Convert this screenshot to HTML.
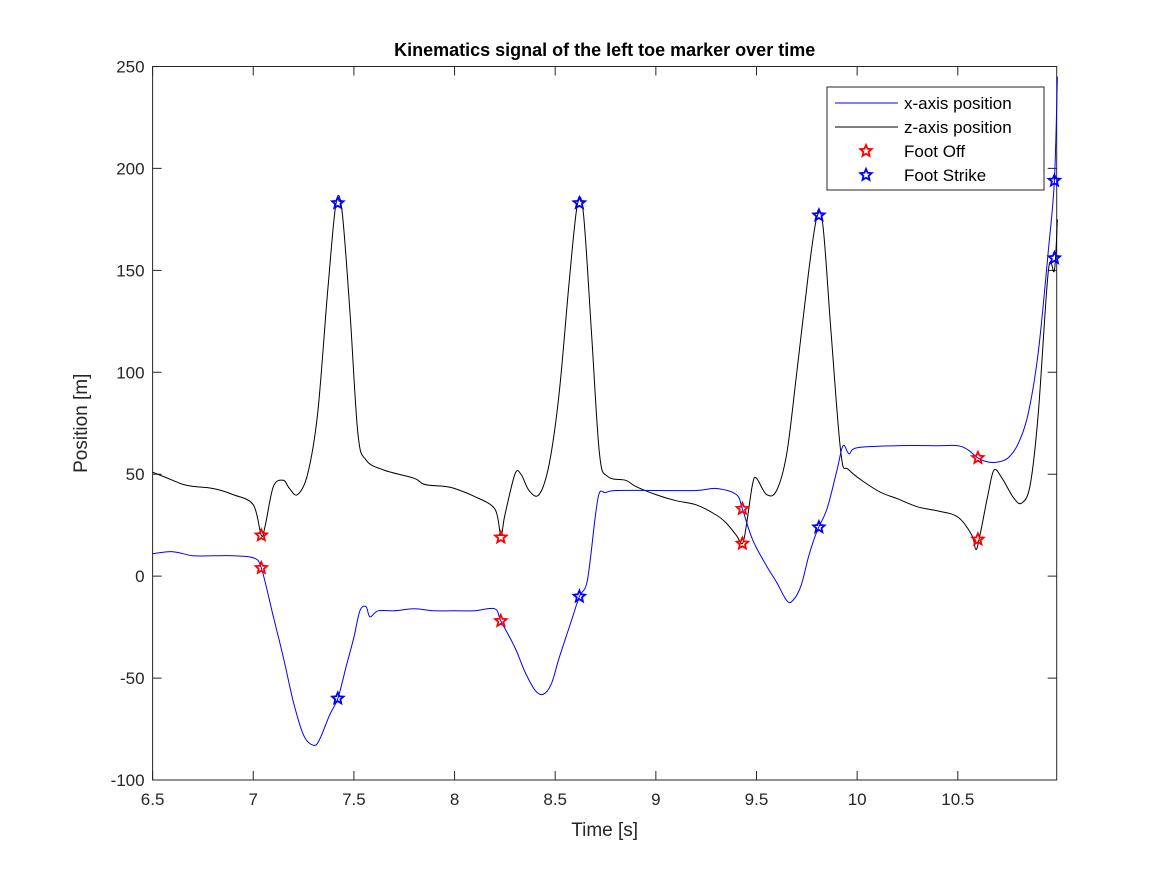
<!DOCTYPE html>
<html><head><meta charset="utf-8"><style>
body{margin:0;background:#fff;font-family:"Liberation Sans",Arial,sans-serif;}
svg text{font-family:"Liberation Sans",Arial,sans-serif;}
</style></head><body>
<svg id="chart" width="1167" height="875" xmlns="http://www.w3.org/2000/svg">
<rect width="1167" height="875" fill="#fff"/>
<g id="plot"></g>
</svg>
<script>
const xTicks=[6.5,7,7.5,8,8.5,9,9.5,10,10.5];
const xTickLabels=["6.5","7","7.5","8","8.5","9","9.5","10","10.5"];
const yTicks=[-100,-50,0,50,100,150,200,250];
const yTickLabels=["-100","-50","0","50","100","150","200","250"];
const xPosT=[6.5,6.6,6.7,6.8,6.9,7.0,7.04,7.1,7.15,7.2,7.25,7.3,7.33,7.38,7.42,7.46,7.5,7.53,7.56,7.58,7.62,7.7,7.8,7.9,8.0,8.1,8.2,8.23,8.3,8.35,8.4,8.44,8.48,8.52,8.58,8.62,8.66,8.7,8.72,8.75,8.8,9.0,9.2,9.3,9.4,9.43,9.48,9.55,9.6,9.65,9.68,9.72,9.76,9.8,9.85,9.9,9.93,9.96,10.0,10.2,10.4,10.5,10.55,10.6,10.65,10.7,10.75,10.8,10.85,10.9,10.95,10.98,10.995];
const xPosV=[11,12,10,10,10,9,4,-20,-40,-62,-78,-83,-80,-68,-60,-45,-30,-17,-15,-20,-17,-17,-16,-17,-17,-17,-16,-22,-35,-47,-56,-58,-53,-40,-22,-10,-2,30,41,41,42,42,42,43,40,33,18,5,-3,-12,-12,-5,10,22,33,52,64,60,63,64,64,64,62,58,56,56,58,65,80,110,160,194,245];
const zPosT=[6.5,6.6,6.65,6.7,6.8,6.9,7.0,7.04,7.06,7.1,7.15,7.18,7.22,7.27,7.32,7.37,7.41,7.44,7.48,7.52,7.56,7.65,7.8,7.85,7.95,8.0,8.1,8.2,8.23,8.25,8.3,8.33,8.37,8.42,8.47,8.52,8.57,8.61,8.64,8.68,8.72,8.76,8.85,8.9,9.0,9.1,9.2,9.3,9.35,9.4,9.43,9.45,9.48,9.5,9.55,9.6,9.65,9.7,9.76,9.8,9.83,9.87,9.92,9.96,10.1,10.2,10.3,10.4,10.5,10.57,10.59,10.61,10.65,10.68,10.72,10.78,10.82,10.86,10.9,10.95,10.98,10.995];
const zPosV=[51,47,45,44,43,40,35,20,25,44,47,43,40,50,80,140,182,180,130,70,57,52,48,45,44,43,39,33,20,30,50,50,42,40,55,90,145,182,178,120,60,49,47,44,40,37,35,30,26,20,16,25,45,48,40,42,60,100,150,176,172,120,60,52,42,38,34,32,29,20,13,20,40,52,48,38,36,45,80,150,150,175];
const footOffT=[7.04,8.23,9.43,10.6,7.04,8.23,9.43,10.6];
const footOffV=[20,19,16,18,4,-22,33,58];
const footStrikeT=[7.42,8.62,9.81,10.98,7.42,8.62,9.81,10.98];
const footStrikeV=[183,183,177,156,-60,-10,24,194];

const L=152.6,R=1056.7,T=66.5,B=780;
const sx=t=>L+(t-6.5)*201.3;
const sy=v=>B-(v+100)*(B-T)/350;
const g=document.getElementById('plot');
const NS="http://www.w3.org/2000/svg";
function mk(tag,attrs){const e=document.createElementNS(NS,tag);for(const k in attrs)e.setAttribute(k,attrs[k]);g.appendChild(e);return e;}
const box=mk('rect',{x:L,y:T,width:R-L,height:B-T,fill:'none',stroke:'#262626','stroke-width':1});


xTicks.forEach((t,i)=>{
  const x=sx(t);
  const tk=mk('path',{d:`M${x},${B}V${B-9}M${x},${T}V${T+9}`,stroke:'#262626','stroke-width':1});
  
  
  const lb=mk('text',{x:x,y:B+25,'text-anchor':'middle','font-size':17,fill:'#262626'});
  lb.textContent=xTickLabels[i];
  
  
});
yTicks.forEach((v,i)=>{
  const y=sy(v);
  const tk=mk('path',{d:`M${L},${y}H${L+9}M${R},${y}H${R-9}`,stroke:'#262626','stroke-width':1});
  
  
  const lb=mk('text',{x:L-8,y:y+6,'text-anchor':'end','font-size':17,fill:'#262626'});
  lb.textContent=yTickLabels[i];
  
  
});
function line(ts,vs,col,name){
  const P=ts.map((t,i)=>[sx(t),sy(vs[i])]);
  let d=`M${P[0][0]},${P[0][1]}`;
  for(let i=0;i<P.length-1;i++){
    const p0=P[Math.max(0,i-1)],p1=P[i],p2=P[i+1],p3=P[Math.min(P.length-1,i+2)];
    const k=1/6;
    const c1=[p1[0]+(p2[0]-p0[0])*k,p1[1]+(p2[1]-p0[1])*k];
    const c2=[p2[0]-(p3[0]-p1[0])*k,p2[1]-(p3[1]-p1[1])*k];
    d+=`C${c1[0].toFixed(1)},${c1[1].toFixed(1)} ${c2[0].toFixed(1)},${c2[1].toFixed(1)} ${p2[0].toFixed(1)},${p2[1].toFixed(1)}`;
  }
  const p=mk('path',{d:d,fill:'none',stroke:col,'stroke-width':1});
  
  
}
line(zPosT,zPosV,'#000','z-axis-line');
line(xPosT,xPosV,'#0000ff','x-axis-line');
function star(cx,cy,r,col){
  let pts=[];
  for(let k=0;k<10;k++){const a=-Math.PI/2+k*Math.PI/5;const rr=k%2?r*0.45:r;pts.push((cx+rr*Math.cos(a)).toFixed(1)+','+(cy+rr*Math.sin(a)).toFixed(1));}
  return mk('polygon',{points:pts.join(' '),fill:'none',stroke:col,'stroke-width':1.8});
}
footOffT.forEach((t,i)=>{const s=star(sx(t),sy(footOffV[i]),6,'#ff0000');
  
  });
footStrikeT.forEach((t,i)=>{const s=star(sx(t),sy(footStrikeV[i]),6,'#0000ff');
  
  });
const ti=mk('text',{x:(L+R)/2,y:56,'text-anchor':'middle','font-size':18,'font-weight':'bold',fill:'#000'});
ti.textContent='Kinematics signal of the left toe marker over time';


const xl=mk('text',{x:(L+R)/2,y:836,'text-anchor':'middle','font-size':19,fill:'#262626'});
xl.textContent='Time [s]';


const yl=mk('text',{x:0,y:0,'text-anchor':'middle','font-size':19,fill:'#262626',transform:`translate(87,${(T+B)/2}) rotate(-90)`});
yl.textContent='Position [m]';


const lg=mk('rect',{x:827,y:87,width:217,height:103,fill:'#fff',stroke:'#262626','stroke-width':1});


const entries=[['x-axis position','line','#0000ff'],['z-axis position','line','#000'],['Foot Off','star','#ff0000'],['Foot Strike','star','#0000ff']];
entries.forEach((e,i)=>{
  const y=103+i*24;
  if(e[1]==='line'){const l=mk('line',{x1:835,x2:898,y1:y,y2:y,stroke:e[2],'stroke-width':1});
    
    }
  else{const s=star(866,y,6,e[2]);
    
    }
  const t=mk('text',{x:904,y:y+6,'font-size':17,fill:'#000'});
  t.textContent=e[0];
  
  
});
</script>
</body></html>
